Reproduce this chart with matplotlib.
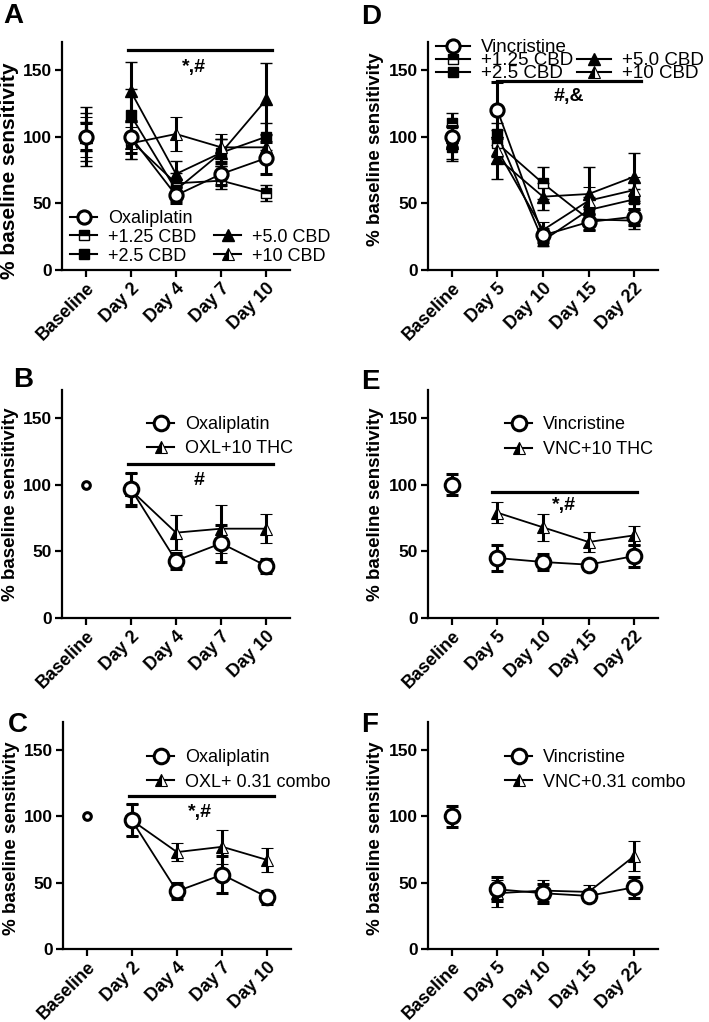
import numpy as np
import matplotlib.pyplot as plt
from matplotlib.lines import Line2D

plt.rcParams['font.family'] = ['Liberation Sans', 'DejaVu Sans']

# categories
days_oxl = ['Baseline', 'Day 2', 'Day 4', 'Day 7', 'Day 10']
days_vnc = ['Baseline', 'Day 5', 'Day 10', 'Day 15', 'Day 22']

# panel A - oxaliplatin + CBD
a_oxl = [100, 100, 56, 72, 84]
a_oxl_err = [10, 12, 6, 8, 12]
a_cbd125 = [100, 97, 65, 67, 58]
a_cbd125_err = [18, 14, 8, 6, 6]
a_cbd25 = [100, 116, 60, 88, 100]
a_cbd25_err = [22, 20, 8, 10, 10]
a_cbd50 = [100, 134, 72, 88, 128]
a_cbd50_err = [11, 22, 10, 10, 27]
a_cbd10 = [100, 95, 102, 92, 92]
a_cbd10_err = [15, 12, 13, 10, 10]

# panel D - vincristine + CBD
d_vnc = [100, 120, 26, 36, 40]
d_vnc_err = [8, 21, 5, 6, 6]
d_cbd125 = [110, 95, 65, 38, 37]
d_cbd125_err = [8, 10, 12, 8, 6]
d_cbd25 = [92, 102, 22, 45, 53]
d_cbd25_err = [10, 8, 4, 10, 8]
d_cbd50 = [95, 84, 55, 57, 70]
d_cbd50_err = [12, 16, 10, 20, 18]
d_cbd10 = [100, 90, 30, 52, 60]
d_cbd10_err = [8, 10, 6, 10, 10]

# panel B - oxaliplatin + THC
b_oxl = [100, 97, 43, 56, 39]
b_oxl_err = [0, 12, 6, 14, 5]
b_thc = [np.nan, 96, 64, 67, 67]
b_thc_err = [0, 13, 13, 18, 11]

# panel E - vincristine + THC
e_vnc = [100, 45, 42, 40, 46.5]
e_vnc_err = [8, 10, 6, 2, 8]
e_thc = [np.nan, 79, 68, 57, 62]
e_thc_err = [0, 8, 10, 7.5, 7]

# panel C - oxaliplatin + combo
c_oxl = [100, 97, 43.5, 56, 39]
c_oxl_err = [0, 12, 6, 14, 5]
c_combo = [np.nan, 97, 73, 77, 67]
c_combo_err = [0, 12, 7, 13, 9]

# panel F - vincristine + combo
f_vnc = [100, 45, 42, 40, 46.5]
f_vnc_err = [8, 9, 7, 3, 8]
f_combo = [np.nan, 42, 44, 43, 70]
f_combo_err = [0, 10, 8, 5, 11]

W, H = 709, 1022
fig = plt.figure(figsize=(W / 100, H / 100), dpi=100)

STY = {
    'circle': dict(marker='o', ms=9.5, mfc='white', mec='black', mew=2.2),
    'sq_half': dict(marker='s', ms=7, fillstyle='top', mfc='black',
                    markerfacecoloralt='white', mec='black', mew=1),
    'sq': dict(marker='s', ms=7, mfc='black', mec='black', mew=1),
    'tri': dict(marker='^', ms=8.5, mfc='black', mec='black', mew=1),
    'tri_half': dict(marker='^', ms=9, fillstyle='left', mfc='black',
                     markerfacecoloralt='white', mec='black', mew=0.8),
}
EB = dict(color='black', ecolor='black', elinewidth=2.2, capsize=4.5, capthick=2.2)


def px_axes(l, t, r, b):
    return fig.add_axes([l / W, 1 - b / H, (r - l) / W, (b - t) / H])


def series(ax, y, err, style, z=3, ms=None, base_ms=None):
    x = np.arange(len(y))
    y = np.asarray(y, float)
    err = np.asarray(err, float)
    st = dict(STY[style])
    if ms is not None:
        st['ms'] = ms
    ax.errorbar(x[1:], y[1:], yerr=err[1:], lw=1.3, zorder=z, **EB, **st)
    if not np.isnan(y[0]):
        if base_ms is not None:
            st['ms'] = base_ms
        ax.errorbar(x[:1], y[:1], yerr=err[:1] if err[0] > 0 else None,
                    ls='none', zorder=z, **EB, **st)


def style_axes(ax, labels, ly=0.5, lsize=13.5):
    ax.set_xlim(-0.52, 4.52)
    ax.set_ylim(0, 171)
    ax.set_yticks([0, 50, 100, 150])
    ax.set_xticks(range(5))
    ax.set_xticklabels(labels, rotation=45, ha='right', va='top',
                       rotation_mode='anchor', fontsize=13, fontweight='bold')
    for t in ax.get_yticklabels():
        t.set_fontweight('bold')
        t.set_fontsize(12.5)
    for s in ['top', 'right']:
        ax.spines[s].set_visible(False)
    for s in ['left', 'bottom']:
        ax.spines[s].set_linewidth(1.6)
    ax.tick_params(width=1.6, length=5, pad=2)
    ax.set_ylabel('% baseline sensitivity', fontsize=lsize, fontweight='bold')
    ax.yaxis.set_label_coords(-0.19, ly)


def handle(style, ms=None):
    st = dict(STY[style])
    if ms is not None:
        st['ms'] = ms
    return Line2D([], [], color='black', lw=1.5, **st)


def sig(ax, x0, x1, y, txt, tx, ty):
    ax.plot([x0, x1], [y, y], color='black', lw=2.3, clip_on=False, zorder=5)
    ax.text(tx, ty, txt, ha='center', va='center', fontsize=14, fontweight='bold')


def legend(ax, handles, labels, left_px, top_px, ncol=1, spacing=0.1, colsp=1.0, hl=1.5, fs=13):
    ax.legend(handles, labels, loc='upper left', ncol=ncol, frameon=False,
              bbox_to_anchor=(left_px / W, 1 - top_px / H),
              bbox_transform=fig.transFigure, borderaxespad=0, borderpad=0,
              fontsize=fs, handlelength=hl, handletextpad=0.6,
              labelspacing=spacing, columnspacing=colsp)


blank = Line2D([], [], alpha=0)
BIG = 10.5

# ---- A ----
axA = px_axes(62, 42, 290, 270)
series(axA, a_cbd125, a_cbd125_err, 'sq_half')
series(axA, a_cbd25, a_cbd25_err, 'sq')
series(axA, a_cbd50, a_cbd50_err, 'tri')
series(axA, a_cbd10, a_cbd10_err, 'tri_half')
series(axA, a_oxl, a_oxl_err, 'circle', z=4)
style_axes(axA, days_oxl, ly=0.434, lsize=15)
sig(axA, 0.93, 4.13, 165, '*,#', 2.4, 152)
legend(axA, [handle('circle'), handle('sq_half'), handle('sq'), blank, handle('tri'), handle('tri_half')],
       ['Oxaliplatin', '+1.25 CBD', '+2.5 CBD', '', '+5.0 CBD', '+10 CBD'],
       70, 210, ncol=2, spacing=0.1, colsp=1.0)

# ---- D ----
axD = px_axes(428, 42, 658, 270)
series(axD, d_cbd125, d_cbd125_err, 'sq_half')
series(axD, d_cbd25, d_cbd25_err, 'sq')
series(axD, d_cbd50, d_cbd50_err, 'tri')
series(axD, d_cbd10, d_cbd10_err, 'tri_half')
series(axD, d_vnc, d_vnc_err, 'circle', z=4)
style_axes(axD, days_vnc, ly=0.53, lsize=13.5)
sig(axD, 1.0, 4.15, 141.5, '#,&', 2.57, 130)
legend(axD, [handle('circle'), handle('sq_half'), handle('sq'), blank, handle('tri'), handle('tri_half')],
       ['Vincristine', '+1.25 CBD', '+2.5 CBD', '', '+5.0 CBD', '+10 CBD'],
       436, 39, ncol=2, spacing=-0.22, colsp=0.2, hl=1.8, fs=13.5)

# ---- B ----
axB = px_axes(62, 390, 290, 618)
series(axB, b_thc, b_thc_err, 'tri_half')
series(axB, b_oxl, b_oxl_err, 'circle', z=4, ms=BIG, base_ms=5.5)
style_axes(axB, days_oxl)
sig(axB, 0.93, 4.15, 115.75, '#', 2.52, 103)
legend(axB, [handle('circle', BIG), handle('tri_half')], ['Oxaliplatin', 'OXL+10 THC'],
       147, 416, spacing=0.38)

# ---- E ----
axE = px_axes(428, 390, 658, 618)
series(axE, e_thc, e_thc_err, 'tri_half')
series(axE, e_vnc, e_vnc_err, 'circle', z=4, ms=BIG)
style_axes(axE, days_vnc)
sig(axE, 0.89, 4.07, 94.5, '*,#', 2.46, 84.5)
legend(axE, [handle('circle', BIG), handle('tri_half')], ['Vincristine', 'VNC+10 THC'],
       505, 416, spacing=0.45)

# ---- C ----
axC = px_axes(63, 722, 291, 949)
series(axC, c_combo, c_combo_err, 'tri_half')
series(axC, c_oxl, c_oxl_err, 'circle', z=4, ms=BIG, base_ms=5.5)
style_axes(axC, days_oxl, ly=0.49)
sig(axC, 0.93, 4.15, 115, '*,#', 2.52, 103)
legend(axC, [handle('circle', BIG), handle('tri_half')], ['Oxaliplatin', 'OXL+ 0.31 combo'],
       147, 749, spacing=0.43)

# ---- F ----
axF = px_axes(428, 722, 658, 949)
series(axF, f_combo, f_combo_err, 'tri_half')
series(axF, f_vnc, f_vnc_err, 'circle', z=4, ms=BIG)
style_axes(axF, days_vnc, ly=0.49)
legend(axF, [handle('circle', BIG), handle('tri_half')], ['Vincristine', 'VNC+0.31 combo'],
       505, 749, spacing=0.43)

# panel letters
for letter, xp, yp in [('A', 3, 3), ('D', 361, 4), ('B', 13, 367), ('E', 361, 369),
                       ('C', 8, 712), ('F', 361, 712)]:
    fig.text(xp / W, 1 - yp / H, letter, fontsize=20, fontweight='bold', ha='left', va='top')

fig.savefig('out.png', dpi=100)
